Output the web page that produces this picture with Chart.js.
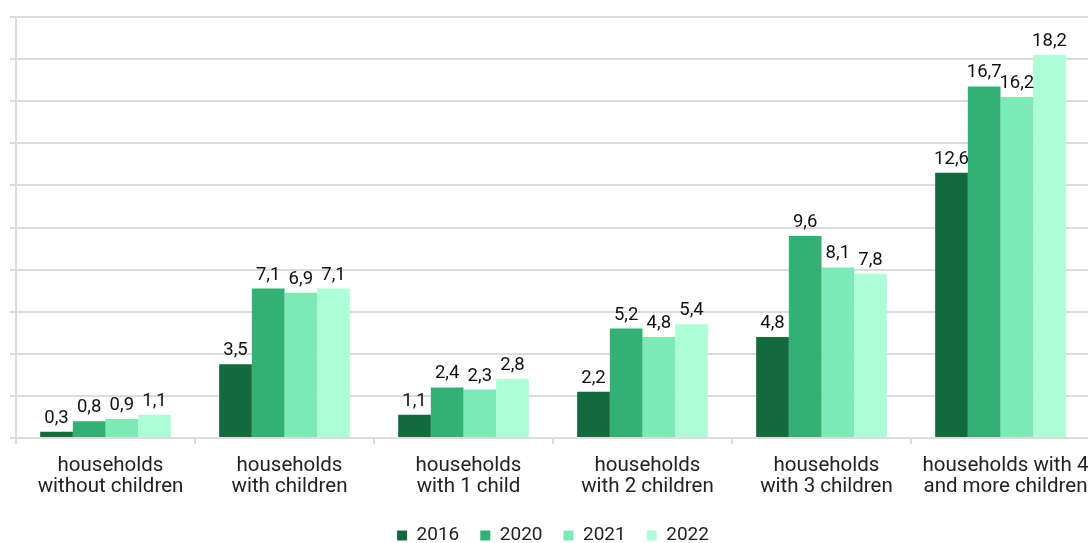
<!DOCTYPE html>
<html>
<head>
<meta charset="utf-8">
<script src="https://cdn.jsdelivr.net/npm/chart.js@4/dist/chart.umd.min.js"></script>
<style>
html,body{margin:0;padding:0;overflow:hidden;background:#fff;}
#wrap{width:1102px;height:543px;position:relative;}
</style>
</head>
<body>
<div id="wrap"><canvas id="c"></canvas></div>
<script>
const categories = [
  ["households", "without children"],
  ["households", "with children"],
  ["households", "with 1 child"],
  ["households", "with 2 children"],
  ["households", "with 3 children"],
  ["households with 4", "and more children"]
];
const seriesNames = ["2016", "2020", "2021", "2022"];
const values2016 = [0.3, 3.5, 1.1, 2.2, 4.8, 12.6];
const values2020 = [0.8, 7.1, 2.4, 5.2, 9.6, 16.7];
const values2021 = [0.9, 6.9, 2.3, 4.8, 8.1, 16.2];
const values2022 = [1.1, 7.1, 2.8, 5.4, 7.8, 18.2];
const colors = ["#136a3f", "#34b075", "#7beab7", "#adfed6"];

const allValues = [values2016, values2020, values2021, values2022];

const labelPlugin = {
  id: 'barLabels',
  afterDatasetsDraw(chart) {
    const ctx = chart.ctx;
    ctx.save();
    ctx.font = '18.5px Roboto';
    ctx.fillStyle = '#111';
    ctx.textAlign = 'center';
    ctx.textBaseline = 'alphabetic';
    chart.data.datasets.forEach((ds, i) => {
      const meta = chart.getDatasetMeta(i);
      meta.data.forEach((bar, j) => {
        const v = ds.data[j];
        ctx.fillText(v.toFixed(1).replace('.', ','), bar.x, bar.y - 9);
      });
    });
    ctx.restore();
  }
};

new Chart(document.getElementById('c'), {
  type: 'bar',
  data: {
    labels: categories,
    datasets: seriesNames.map((n, i) => ({
      label: n,
      data: allValues[i],
      backgroundColor: colors[i],
      borderWidth: 0,
      barPercentage: 1.0,
      categoryPercentage: 0.73
    }))
  },
  options: {
    responsive: true,
    maintainAspectRatio: false,
    animation: false,
    layout: { padding: { top: 17, right: 12, left: 0, bottom: -12 } },
    plugins: {
      legend: {
        position: 'bottom',
        fullSize: false,
        labels: {
          boxWidth: 10,
          boxHeight: 10,
          padding: 21,
          color: '#222',
          font: { family: 'Roboto', size: 19 }
        }
      },
      tooltip: { enabled: false }
    },
    scales: {
      x: {
        afterFit(s) { s.height = 67; },
        grid: { drawOnChartArea: false, drawTicks: true, tickLength: 6, color: '#dcdcdc', lineWidth: 2 },
        border: { color: '#dcdcdc', width: 2 },
        ticks: { color: '#222', font: { family: 'Roboto', size: 20.5, lineHeight: 1.03 }, padding: 11, labelOffset: 5, maxRotation: 0, autoSkip: false }
      },
      y: {
        min: 0, max: 20,
        afterFit(s) { s.width = 16; },
        grid: { color: '#dcdcdc', lineWidth: 2, tickLength: 6 },
        border: { color: '#dcdcdc', width: 2 },
        ticks: { display: false, stepSize: 2 }
      }
    }
  },
  plugins: [labelPlugin]
});
</script>
</body>
</html>
